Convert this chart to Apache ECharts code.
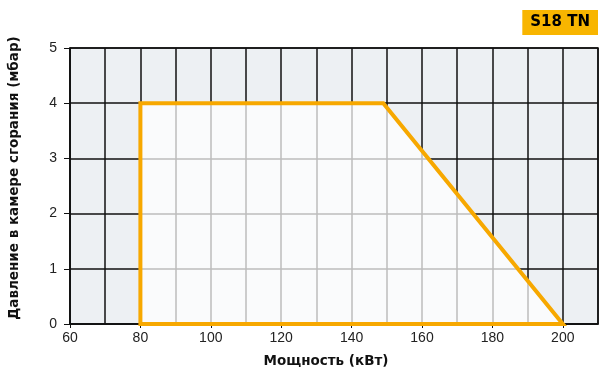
<!DOCTYPE html>
<html><head><meta charset="utf-8">
<script src="https://cdn.jsdelivr.net/npm/echarts@6/dist/echarts.min.js"></script>
<style>html,body{margin:0;padding:0;background:#fff}#c{width:599px;height:370px}</style>
</head><body><div id="c"></div>
<script>
const titleText = 'S18 TN';
const xName = 'Мощность (кВт)';
const yName = 'Давление в камере сгорания (мбар)';
const xTickLabels = [60, 80, 100, 120, 140, 160, 180, 200];
const rangeX = [80, 80, 149, 200];
const rangeY = [0, 4, 4, 0];
const xMin = 60, xMax = 210, yMin = 0, yMax = 5;

const polyData = rangeX.map((x, i) => [x, rangeY[i]]);
const chart = echarts.init(document.getElementById('c'));
const font = '"Liberation Sans", Arial, sans-serif';
const nameFont = '"DejaVu Sans", sans-serif';
chart.setOption({
  animation: false,
  title: {
    text: titleText, right: 1, top: 10,
    backgroundColor: '#f8b500', padding: [4, 8, 4, 8],
    textStyle: {fontFamily: '"DejaVu Sans", sans-serif', fontWeight: 'bold', fontSize: 15, color: '#000', lineHeight: 17}
  },
  grid: {left: 70, right: 1, top: 48, bottom: 46, show: true, outerBoundsMode: 'none',
         backgroundColor: '#edf0f3', borderColor: '#111', borderWidth: 1.5},
  xAxis: [{
    type: 'value', min: xMin, max: xMax, interval: 10,
    axisLine: {show: false}, axisTick: {show: false}, axisLabel: {show: false},
    splitLine: {show: true, lineStyle: {color: '#111', width: 1.5}}
  }, {
    type: 'value', min: xMin, max: xMax, position: 'bottom', gridIndex: 0,
    name: xName, nameLocation: 'middle', nameGap: 30,
    nameTextStyle: {fontFamily: nameFont, fontWeight: 'bold', fontSize: 13.5, color: '#111', padding: [0, 16, 0, 0]},
    axisLine: {show: true, lineStyle: {color: '#111', width: 1.5}},
    axisTick: {show: true, length: 4, lineStyle: {color: '#111'}, customValues: xTickLabels},
    axisLabel: {fontFamily: font, fontSize: 14, color: '#222', margin: 7, customValues: xTickLabels},
    splitLine: {show: false}
  }],
  yAxis: {
    type: 'value', min: yMin, max: yMax, interval: 1,
    name: yName, nameLocation: 'middle', nameGap: 49,
    nameTextStyle: {fontFamily: nameFont, fontWeight: 'bold', fontSize: 13.5, color: '#111', padding: [0, 0, 0, 16]},
    axisLine: {show: true, lineStyle: {color: '#111', width: 1.5}},
    axisTick: {show: true, length: 6, lineStyle: {color: '#111'}},
    axisLabel: {fontFamily: font, fontSize: 14, color: '#222', margin: 13},
    splitLine: {show: true, lineStyle: {color: '#111', width: 1.5}}
  },
  series: [{
    type: 'custom',
    xAxisIndex: 0,
    data: [0],
    renderItem: function (params, api) {
      const pts = polyData.map(p => api.coord(p));
      return {
        type: 'polygon',
        shape: {points: pts},
        style: {fill: 'rgba(255,255,255,0.72)', stroke: '#f7a800', lineWidth: 4, lineJoin: 'miter'}
      };
    },
    clip: false, z: 5
  }]
});
</script></body></html>
